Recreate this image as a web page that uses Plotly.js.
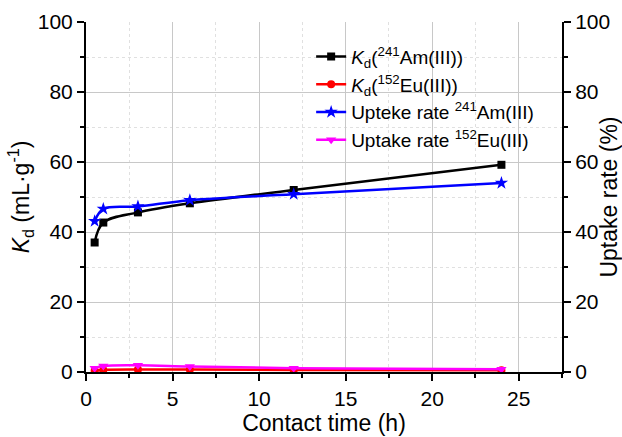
<!DOCTYPE html>
<html>
<head>
<meta charset="utf-8">
<script src="https://cdn.plot.ly/plotly-3.0.1.min.js"></script>
<style>html,body{margin:0;padding:0;background:#fff;}#chart{width:622px;height:437px;}</style>
</head>
<body>
<div id="chart"></div>
<script>
const time = [0.5, 1, 3, 6, 12, 24];
const kdAm = [37.0, 42.7, 45.6, 48.2, 52.0, 59.2];
const kdEu = [0.4, 0.6, 0.7, 0.7, 0.6, 0.5];
const upAm = [43.1, 46.6, 47.3, 49.1, 50.8, 54.0];
const upEu = [1.1, 1.7, 1.9, 1.6, 1.1, 0.8];
const names = [
  '<i>K</i><sub>d</sub>(<sup>241</sup>Am(III))',
  '<i>K</i><sub>d</sub>(<sup>152</sup>Eu(III))',
  'Upteke rate <sup>241</sup>Am(III)',
  'Uptake rate <sup>152</sup>Eu(III)'
];
const fontFam = 'Liberation Sans, Arial, sans-serif';
const traces = [
  {x: time, y: kdAm, name: names[0], mode: 'lines+markers', line: {color: '#000000', width: 2.5, shape: 'spline'}, marker: {symbol: 'square', size: 8, color: '#000000'}},
  {x: time, y: kdEu, name: names[1], mode: 'lines+markers', line: {color: '#ff0000', width: 2.5, shape: 'spline'}, marker: {symbol: 'circle', size: 8, color: '#ff0000'}},
  {x: time, y: upAm, name: names[2], mode: 'lines+markers', yaxis: 'y2', line: {color: '#0000ff', width: 2.5, shape: 'spline'}, marker: {symbol: 'star', size: 10, color: '#0000ff'}},
  {x: time, y: upEu, name: names[3], mode: 'lines+markers', yaxis: 'y2', line: {color: '#ff00ff', width: 2.5, shape: 'spline'}, marker: {symbol: 'triangle-down', size: 9, color: '#ff00ff'}}
];
const axisCommon = {
  showline: true, linecolor: '#000', linewidth: 2,
  ticks: 'outside', ticklen: 7, tickwidth: 2, tickcolor: '#000',
  tickfont: {family: fontFam, size: 21, color: '#000'},
  zeroline: false
};
const layout = {
  width: 622, height: 437,
  margin: {l: 86, r: 60, t: 22, b: 65},
  paper_bgcolor: '#fff', plot_bgcolor: '#fff',
  font: {family: fontFam, color: '#000'},
  showlegend: true,
  legend: {x: 0.473, y: 0.955, xanchor: 'left', yanchor: 'top', bgcolor: 'rgba(0,0,0,0)', borderwidth: 0,
           font: {family: fontFam, size: 19, color: '#000'}, tracegroupgap: 0},
  xaxis: Object.assign({}, axisCommon, {
    range: [0, 27.5], dtick: 5, tick0: 0,
    showgrid: true, gridcolor: '#c8c8c8', gridwidth: 1,
    minor: {dtick: 2.5, ticks: 'outside', ticklen: 4, tickwidth: 2, tickcolor: '#000', showgrid: true, gridcolor: '#e0e0e0', griddash: 'dot', gridwidth: 1},
    title: {text: 'Contact time (h)', font: {family: fontFam, size: 23, color: '#000'}, standoff: 2}
  }),
  yaxis: Object.assign({}, axisCommon, {
    range: [0, 100], dtick: 20,
    showgrid: true, gridcolor: '#c8c8c8', gridwidth: 1,
    minor: {dtick: 10, ticks: 'outside', ticklen: 4, tickwidth: 2, tickcolor: '#000', showgrid: true, gridcolor: '#e0e0e0', griddash: 'dot', gridwidth: 1},
    title: {text: '<i>K</i><sub>d</sub> (mL·g<sup>-1</sup>)', font: {family: fontFam, size: 23, color: '#000'}, standoff: 2}
  }),
  yaxis2: Object.assign({}, axisCommon, {
    overlaying: 'y', side: 'right', anchor: 'x',
    range: [0, 100], dtick: 20, showgrid: false,
    minor: {dtick: 10, ticks: 'outside', ticklen: 4, tickwidth: 2, tickcolor: '#000'},
    title: {text: 'Uptake rate (%)', font: {family: fontFam, size: 23, color: '#000'}, standoff: 0}
  })
};
Plotly.newPlot('chart', traces, layout, {displayModeBar: false, staticPlot: true});
</script>
</body>
</html>
